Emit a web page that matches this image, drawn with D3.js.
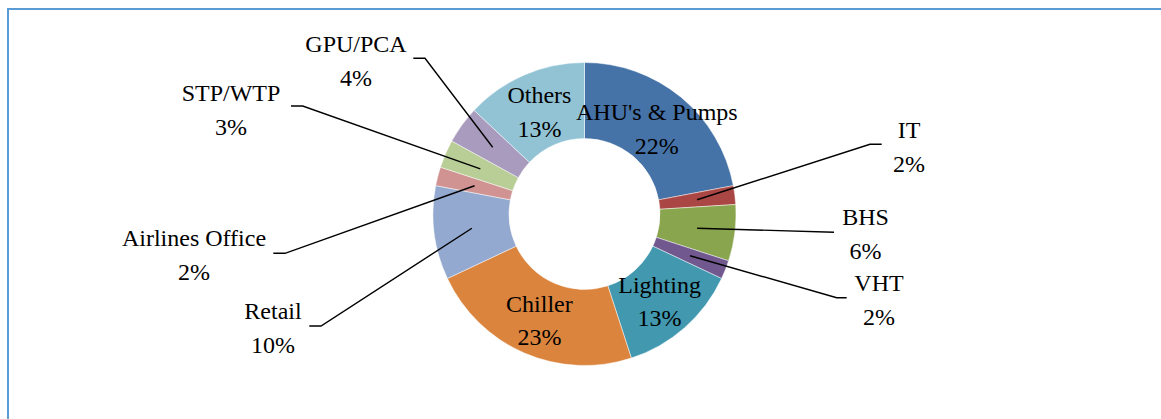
<!DOCTYPE html>
<html>
<head>
<meta charset="utf-8">
<script src="https://cdn.jsdelivr.net/npm/d3@7"></script>
<style>
  html, body { margin: 0; padding: 0; background: #fff; }
  svg { display: block; }
</style>
</head>
<body>
<svg id="chart" width="1161" height="419"></svg>
<script>
// Energy consumption share by load, clockwise from 12 o'clock
const categories = ["AHU's & Pumps", "IT", "BHS", "VHT", "Lighting", "Chiller",
                    "Retail", "Airlines Office", "STP/WTP", "GPU/PCA", "Others"];
const shares = [22, 2, 6, 2, 13, 23, 10, 2, 3, 4, 13];
const colors = ["#4572a7", "#aa4643", "#89a54e", "#71588f", "#4198af", "#db843d",
                "#93a9cf", "#d19392", "#b9cd96", "#a99bbd", "#92c3d5"];

// Labels drawn inside the ring
const insideLabels = ["AHU's & Pumps", "Lighting", "Chiller", "Others"];

// Placement of the outside labels and their leader lines
const outsideLayout = {
  "IT":              { x: 909, y: 138.3, elbow: [870, 144.3], tail: 881.7 },
  "BHS":             { x: 865.5, y: 225, elbow: [834, 232.3], tail: null },
  "VHT":             { x: 879, y: 290.7, elbow: [836.7, 297.7], tail: 846.7 },
  "Retail":          { x: 273, y: 319.3, elbow: [321, 326], tail: 309.3 },
  "Airlines Office": { x: 194, y: 246, elbow: [285, 253.3], tail: 273.3 },
  "STP/WTP":         { x: 231, y: 100.7, elbow: [302.7, 106], tail: 291 },
  "GPU/PCA":         { x: 356, y: 51.7, elbow: [425, 58.3], tail: 413.3 }
};

const FONT = "'Liberation Serif', 'DejaVu Serif', serif";
const FONT_SIZE = 24;

const svg = d3.select("#chart");

// chart area frame
svg.append("rect")
  .attr("x", 8).attr("y", 9)
  .attr("width", 1300).attr("height", 600)
  .attr("fill", "none")
  .attr("stroke", "#5b9bd5")
  .attr("stroke-width", 2);

const cx = 584.5, cy = 214, outerR = 151.5, innerR = 75.5;
const g = svg.append("g").attr("transform", `translate(${cx},${cy})`);

const data = categories.map((c, i) => ({ name: c, value: shares[i], color: colors[i] }));
const total = d3.sum(shares);
const pct = d3.format(".0%");

const pie = d3.pie().value(d => d.value).sort(null);
const arc = d3.arc().innerRadius(innerR).outerRadius(outerR);
const arcs = pie(data);

g.selectAll("path.slice")
  .data(arcs)
  .join("path")
  .attr("class", "slice")
  .attr("d", arc)
  .attr("fill", d => d.data.color)
  .attr("stroke", "#ffffff")
  .attr("stroke-opacity", 0.6)
  .attr("stroke-width", 0.8);

function twoLineLabel(parent, x, y, gap, name, value) {
  const t = parent.append("text")
    .attr("text-anchor", "middle")
    .attr("font-family", FONT)
    .attr("font-size", FONT_SIZE)
    .attr("fill", "#000");
  t.append("tspan").attr("x", x).attr("y", y).text(name);
  t.append("tspan").attr("x", x).attr("y", y + gap).text(pct(value / total));
}

// inside labels centred on the slice centroid
arcs.filter(d => insideLabels.includes(d.data.name)).forEach(d => {
  const [x, y] = arc.centroid(d);
  twoLineLabel(g, x, y - 6.5, 33.5, d.data.name, d.data.value);
});

// outside labels with leader lines from the slice centroid
arcs.filter(d => outsideLayout[d.data.name]).forEach(d => {
  const lay = outsideLayout[d.data.name];
  const [ax, ay] = arc.centroid(d);
  const pts = [[ax + cx, ay + cy], lay.elbow];
  if (lay.tail !== null) pts.push([lay.tail, lay.elbow[1]]);
  svg.append("path")
    .attr("d", d3.line()(pts))
    .attr("fill", "none")
    .attr("stroke", "#000")
    .attr("stroke-width", 1.4);
  twoLineLabel(svg, lay.x, lay.y, 34, d.data.name, d.data.value);
});
</script>
</body>
</html>
